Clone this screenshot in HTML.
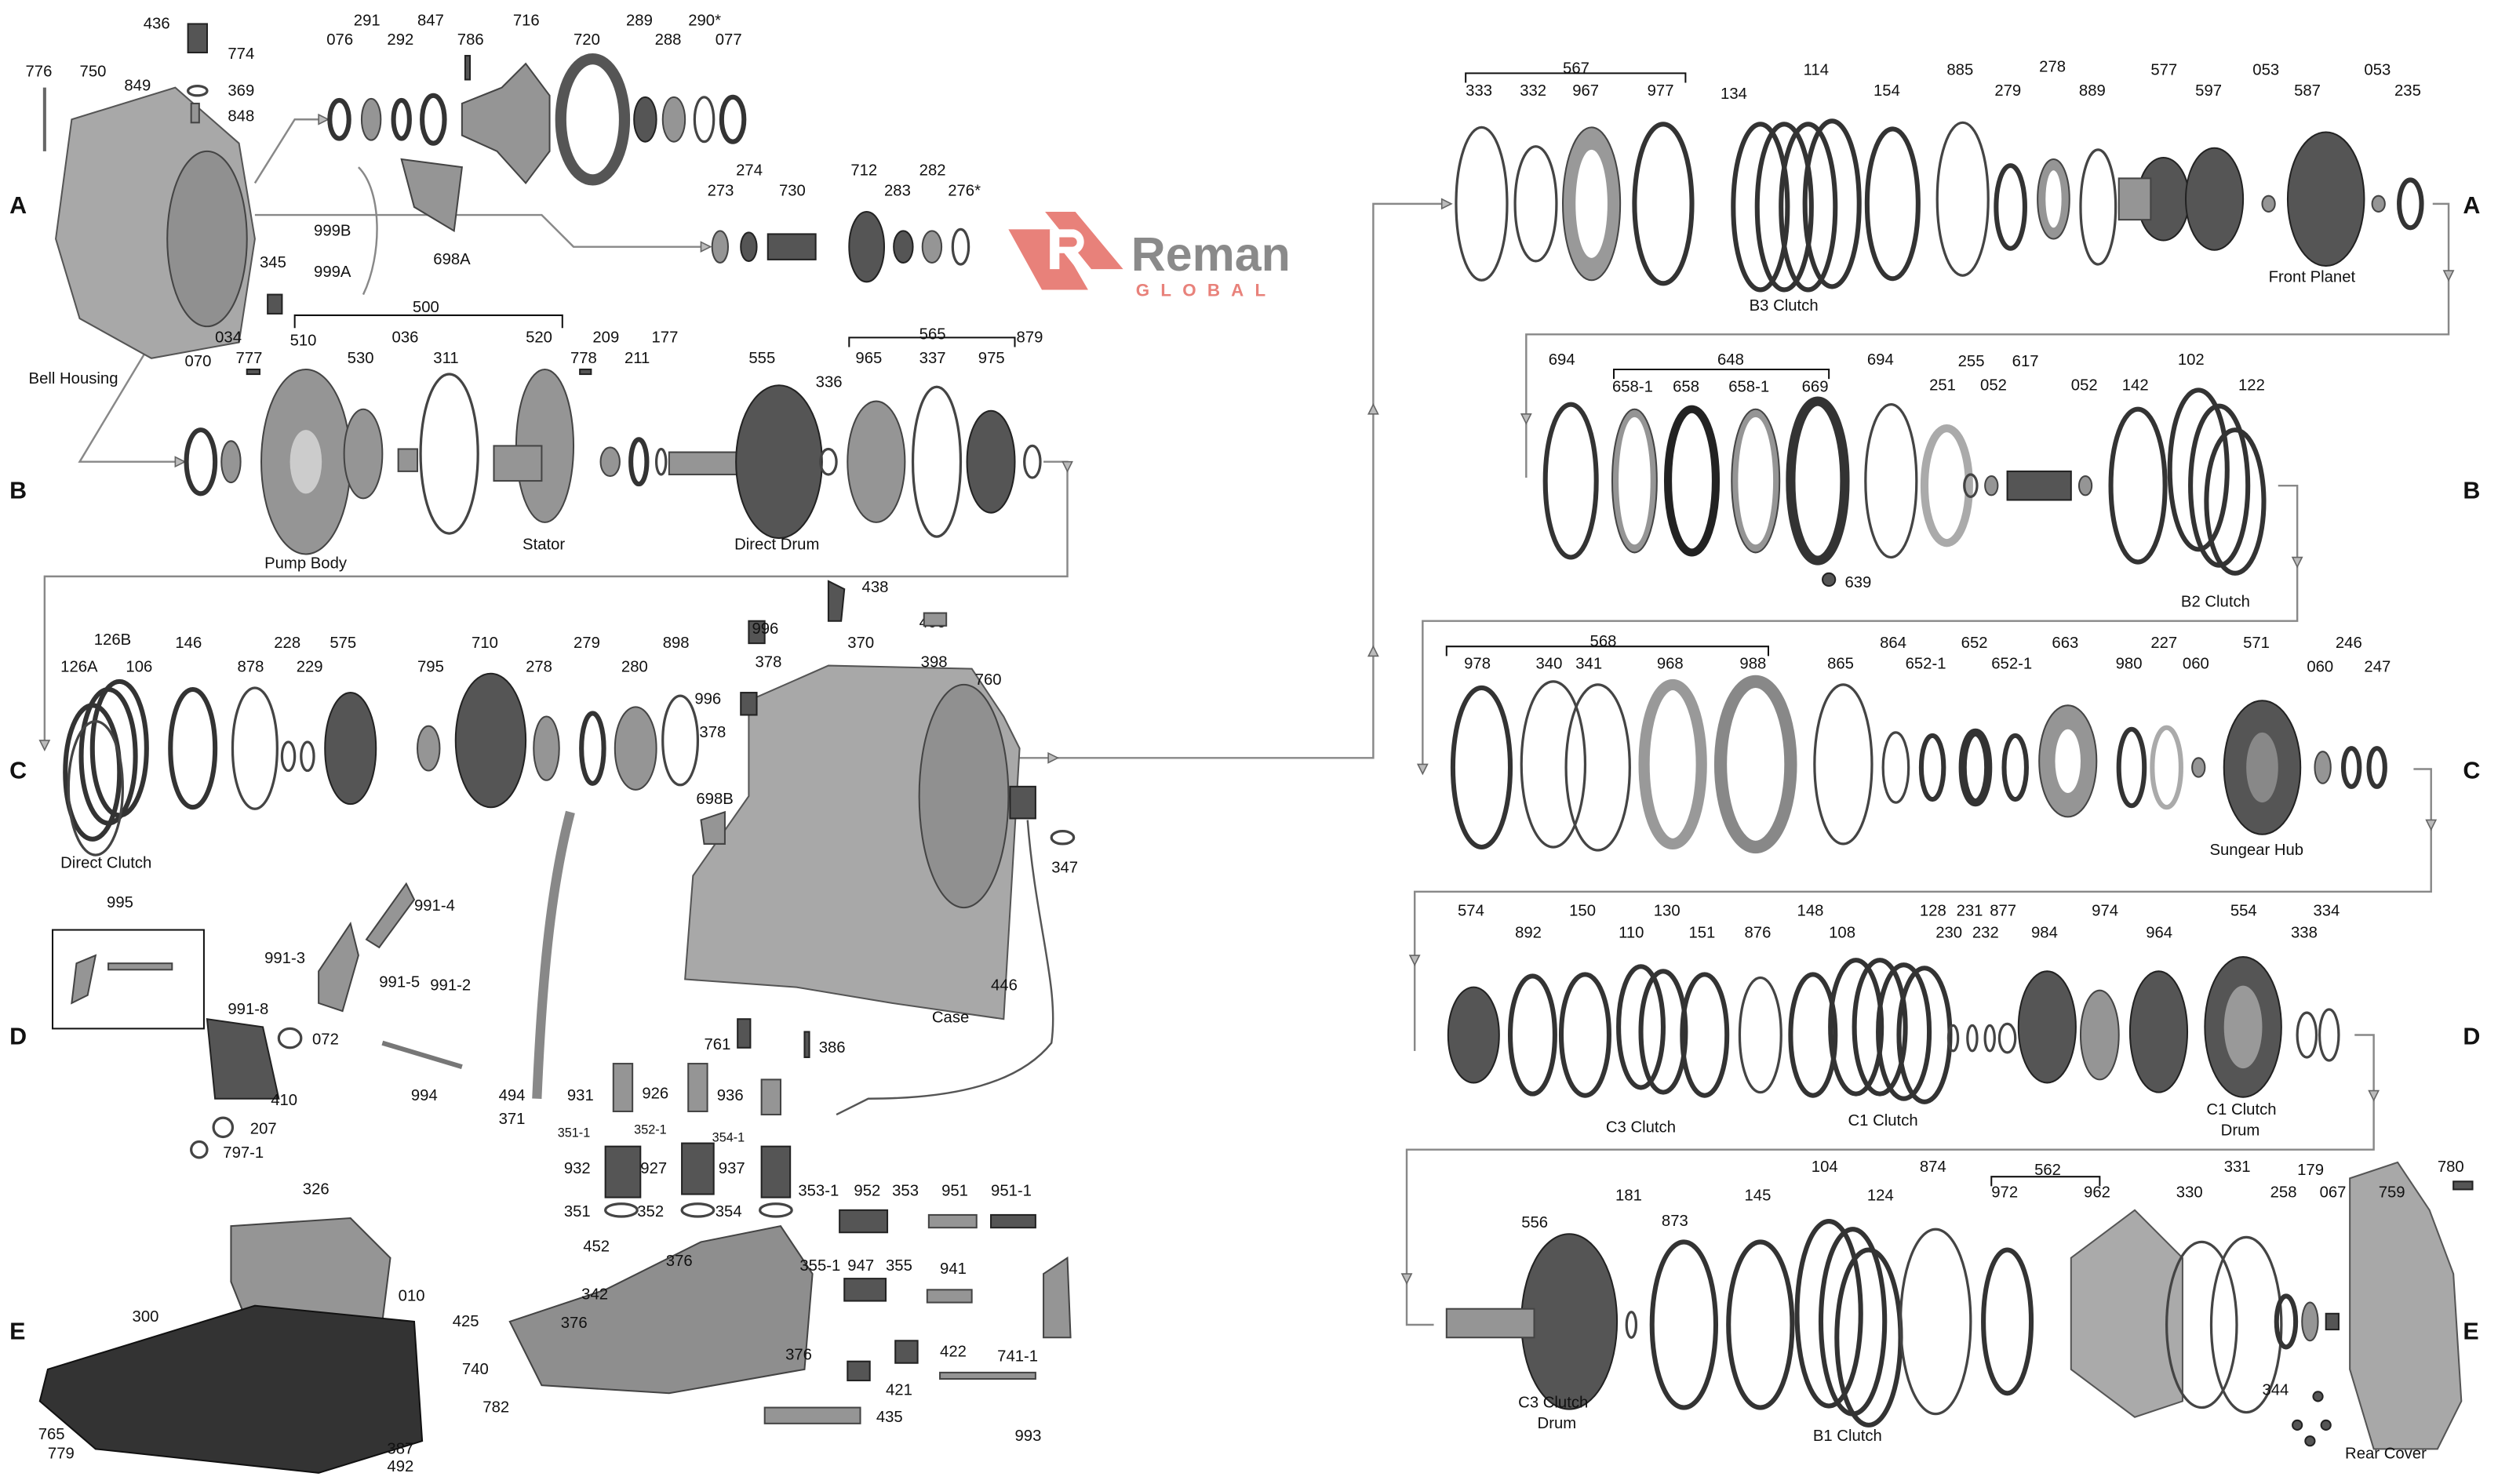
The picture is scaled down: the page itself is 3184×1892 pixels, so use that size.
<!DOCTYPE html>
<html><head><meta charset="utf-8"><style>
html,body{margin:0;padding:0;background:#fff}
svg{display:block}
text{font-family:"Liberation Sans",sans-serif;font-size:10px;fill:#111}
.L{font-size:15px;font-weight:bold}
.r{fill:none;stroke:#444;stroke-width:1.6}
.rt{fill:none;stroke:#333;stroke-width:3}
.g{fill:#959595;stroke:#444;stroke-width:1}
.d{fill:#555;stroke:#222;stroke-width:1}
.ln{fill:none;stroke:#888;stroke-width:1.2}
.ar{fill:#bbb;stroke:#666;stroke-width:0.8}
</style></head><body>
<svg width="3184" height="1892" viewBox="0 0 1568 932" preserveAspectRatio="none">
<rect width="1568" height="932" fill="#fff"/>
<text class="L" x="6" y="134">A</text><text class="L" x="6" y="313">B</text><text class="L" x="6" y="489">C</text><text class="L" x="6" y="656">D</text><text class="L" x="6" y="841">E</text>
<text class="L" x="1546" y="134">A</text><text class="L" x="1546" y="313">B</text><text class="L" x="1546" y="489">C</text><text class="L" x="1546" y="656">D</text><text class="L" x="1546" y="841">E</text>

<polyline class="ln" points="160,115 185,75 200,75"/>
<polyline class="ln" points="160,135 340,135 360,155 440,155"/>
<polyline class="ln" points="95,215 50,290 110,290"/>
<polyline class="ln" points="655,290 670,290 670,362 28,362 28,470"/>
<polyline class="ln" points="640,476 862,476 862,128 905,128"/>
<polyline class="ln" points="1527,128 1537,128 1537,210 958,210 958,300"/>
<polyline class="ln" points="1430,305 1442,305 1442,390 893,390 893,485"/>
<polyline class="ln" points="1515,483 1526,483 1526,560 888,560 888,660"/>
<polyline class="ln" points="1478,650 1490,650 1490,722 883,722 883,832 900,832"/>
<polygon class="ar" points="200,72 206,75 200,78"/><polygon class="ar" points="440,152 446,155 440,158"/>
<polygon class="ar" points="110,287 116,290 110,293"/><polygon class="ar" points="25,465 31,465 28,471"/>
<polygon class="ar" points="667,290 673,290 670,296"/><polygon class="ar" points="859,412 865,412 862,406"/>
<polygon class="ar" points="859,260 865,260 862,254"/><polygon class="ar" points="905,125 911,128 905,131"/>
<polygon class="ar" points="1534,170 1540,170 1537,176"/><polygon class="ar" points="955,260 961,260 958,266"/>
<polygon class="ar" points="1439,350 1445,350 1442,356"/><polygon class="ar" points="890,480 896,480 893,486"/>
<polygon class="ar" points="1523,515 1529,515 1526,521"/><polygon class="ar" points="885,600 891,600 888,606"/>
<polygon class="ar" points="1487,685 1493,685 1490,691"/><polygon class="ar" points="880,800 886,800 883,806"/>
<polygon class="ar" points="658,473 664,476 658,479"/>

<!-- logo -->
<polygon points="633,144 661,144 683,182 654,182" fill="#e8817a"/>
<polygon points="656,133 675,133 705,169 685,169" fill="#e8817a"/>
<path d="M659,144 h15 a8,8 0 0 1 2,15 l8,10 h-8 l-8,-10 h-3 v10 h-6 z" fill="#fff"/>
<path d="M665,149 h8 a3,3 0 0 1 0,6 h-8 z" fill="#e8817a"/>
<text x="710" y="170" style="font-size:30px;fill:#8a8a8a;font-weight:bold">Reman</text>
<text x="713" y="186" style="font-size:11px;fill:#e8817a;font-weight:bold;letter-spacing:7px">GLOBAL</text>

<path d="M45,75 L110,55 L150,90 L160,150 L150,215 L95,225 L50,200 L35,150 Z" fill="#a8a8a8" stroke="#555"/>
<ellipse cx="130" cy="150" rx="25" ry="55" fill="#909090" stroke="#444"/>
<line x1="28" y1="55" x2="28" y2="95" stroke="#666" stroke-width="2"/>
<text x="16" y="48">776</text><text x="50" y="48">750</text><text x="18" y="241">Bell Housing</text>
<rect x="118" y="15" width="12" height="18" class="d"/><text x="90" y="18">436</text><text x="143" y="37">774</text>
<text x="78" y="57">849</text><ellipse cx="124" cy="57" rx="6" ry="3" class="r"/><text x="143" y="60">369</text>
<rect x="120" y="65" width="5" height="12" class="g"/><text x="143" y="76">848</text>
<rect x="168" y="185" width="9" height="12" class="d"/><text x="163" y="168">345</text>
<ellipse cx="213" cy="75" rx="6" ry="12" class="rt"/><text x="205" y="28">076</text>
<ellipse cx="233" cy="75" rx="6" ry="13" class="g"/><text x="222" y="16">291</text>
<ellipse cx="252" cy="75" rx="5" ry="12" class="rt"/><text x="243" y="28">292</text>
<ellipse cx="272" cy="75" rx="7" ry="15" class="rt"/><text x="262" y="16">847</text>
<rect x="292" y="35" width="3" height="15" class="d"/><text x="287" y="28">786</text>
<path d="M290,65 L315,55 L330,40 L345,60 L345,95 L330,115 L312,95 L290,85 Z" class="g"/><text x="322" y="16">716</text>
<ellipse cx="372" cy="75" rx="20" ry="38" fill="none" stroke="#555" stroke-width="7"/><text x="360" y="28">720</text>
<ellipse cx="405" cy="75" rx="7" ry="14" class="d"/><text x="393" y="16">289</text>
<ellipse cx="423" cy="75" rx="7" ry="14" class="g"/><text x="411" y="28">288</text>
<ellipse cx="442" cy="75" rx="6" ry="14" class="r"/><text x="432" y="16">290*</text>
<ellipse cx="460" cy="75" rx="7" ry="14" class="rt"/><text x="449" y="28">077</text>
<path d="M252,100 L290,105 L285,145 L260,130 Z" class="g"/><text x="272" y="166">698A</text>
<text x="197" y="148">999B</text><text x="197" y="174">999A</text>
<path d="M225,105 C240,120 240,160 228,185" class="ln"/>
<ellipse cx="452" cy="155" rx="5" ry="10" class="g"/><text x="444" y="123">273</text>
<ellipse cx="470" cy="155" rx="5" ry="9" class="d"/><text x="462" y="110">274</text>
<rect x="482" y="147" width="30" height="16" class="d"/><text x="489" y="123">730</text>
<ellipse cx="544" cy="155" rx="11" ry="22" class="d"/><text x="534" y="110">712</text>
<ellipse cx="567" cy="155" rx="6" ry="10" class="d"/><text x="555" y="123">283</text>
<ellipse cx="585" cy="155" rx="6" ry="10" class="g"/><text x="577" y="110">282</text>
<ellipse cx="603" cy="155" rx="5" ry="11" class="r"/><text x="595" y="123">276*</text>

<ellipse cx="126" cy="290" rx="9" ry="20" class="rt"/><text x="116" y="230">070</text>
<ellipse cx="145" cy="290" rx="6" ry="13" class="g"/><text x="135" y="215">034</text>
<text x="148" y="228">777</text><rect x="155" y="232" width="8" height="3" class="d"/>
<ellipse cx="192" cy="290" rx="28" ry="58" class="g"/><ellipse cx="192" cy="290" rx="10" ry="20" fill="#ccc"/>
<text x="182" y="217">510</text><text x="166" y="357">Pump Body</text>
<path d="M185,206 V198 H353 V206" fill="none" stroke="#111"/>
<text x="259" y="196">500</text>
<ellipse cx="228" cy="285" rx="12" ry="28" class="g"/><text x="218" y="228">530</text>
<rect x="250" y="282" width="12" height="14" class="g"/><text x="246" y="215">036</text>
<ellipse cx="282" cy="285" rx="18" ry="50" class="r"/><text x="272" y="228">311</text>
<ellipse cx="342" cy="280" rx="18" ry="48" class="g"/><rect x="310" y="280" width="30" height="22" class="g"/>
<text x="330" y="215">520</text><text x="328" y="345">Stator</text>
<text x="358" y="228">778</text><rect x="364" y="232" width="7" height="3" class="d"/>
<text x="372" y="215">209</text><text x="392" y="228">211</text><text x="409" y="215">177</text>
<ellipse cx="383" cy="290" rx="6" ry="9" class="g"/>
<ellipse cx="401" cy="290" rx="5" ry="14" class="rt"/>
<ellipse cx="415" cy="290" rx="3" ry="8" class="r"/>
<rect x="420" y="284" width="45" height="14" class="g"/>
<ellipse cx="489" cy="290" rx="27" ry="48" class="d"/>
<text x="470" y="228">555</text><text x="461" y="345">Direct Drum</text>
<ellipse cx="520" cy="290" rx="5" ry="8" class="r"/><text x="512" y="243">336</text>
<path d="M533,218 V212 H637 V218" fill="none" stroke="#111"/><text x="577" y="213">565</text>
<ellipse cx="550" cy="290" rx="18" ry="38" class="g"/><text x="537" y="228">965</text>
<ellipse cx="588" cy="290" rx="15" ry="47" class="r"/><text x="577" y="228">337</text>
<ellipse cx="622" cy="290" rx="15" ry="32" class="d"/><text x="614" y="228">975</text>
<ellipse cx="648" cy="290" rx="5" ry="10" class="r"/><text x="638" y="215">879</text>

<ellipse cx="58" cy="485" rx="17" ry="42" class="rt"/><ellipse cx="68" cy="475" rx="17" ry="42" class="rt"/><ellipse cx="75" cy="470" rx="17" ry="42" class="rt"/>
<ellipse cx="60" cy="495" rx="17" ry="42" class="r"/>
<text x="38" y="422">126A</text><text x="59" y="405">126B</text><text x="79" y="422">106</text><text x="38" y="545">Direct Clutch</text>
<ellipse cx="121" cy="470" rx="14" ry="37" class="rt"/><text x="110" y="407">146</text>
<ellipse cx="160" cy="470" rx="14" ry="38" class="r"/><text x="149" y="422">878</text>
<ellipse cx="181" cy="475" rx="4" ry="9" class="r"/><text x="172" y="407">228</text>
<ellipse cx="193" cy="475" rx="4" ry="9" class="r"/><text x="186" y="422">229</text>
<ellipse cx="220" cy="470" rx="16" ry="35" class="d"/><text x="207" y="407">575</text>
<ellipse cx="269" cy="470" rx="7" ry="14" class="g"/><text x="262" y="422">795</text>
<ellipse cx="308" cy="465" rx="22" ry="42" class="d"/><text x="296" y="407">710</text>
<ellipse cx="343" cy="470" rx="8" ry="20" class="g"/><text x="330" y="422">278</text>
<ellipse cx="372" cy="470" rx="7" ry="22" class="rt"/><text x="360" y="407">279</text>
<ellipse cx="399" cy="470" rx="13" ry="26" class="g"/><text x="390" y="422">280</text>
<ellipse cx="427" cy="465" rx="11" ry="28" class="r"/><text x="416" y="407">898</text>

<path d="M470,440 L520,418 L610,420 L630,450 L640,470 L630,640 L560,630 L500,620 L430,615 L435,550 L470,500 Z" fill="#a8a8a8" stroke="#555"/>
<ellipse cx="605" cy="500" rx="28" ry="70" fill="#909090" stroke="#444"/>
<text x="585" y="642">Case</text><text x="612" y="430">760</text>
<rect x="470" y="390" width="10" height="14" class="d"/><text x="472" y="398">996</text>
<text x="474" y="419">378</text><text x="532" y="407">370</text><text x="577" y="394">490</text><text x="578" y="419">398</text>
<path d="M520,365 L530,370 L528,390 L520,390 Z" class="d"/><text x="541" y="372">438</text>
<rect x="580" y="385" width="14" height="8" class="g"/>
<rect x="465" y="435" width="10" height="14" class="d"/><text x="436" y="442">996</text><text x="439" y="463">378</text>
<path d="M440,515 L455,510 L455,530 L442,530 Z" class="g"/><text x="437" y="505">698B</text>
<rect x="634" y="494" width="16" height="20" class="d"/><text x="660" y="548">347</text><ellipse cx="667" cy="526" rx="7" ry="4" class="r"/>
<path d="M645,515 C650,580 665,620 660,655 C640,680 600,690 545,690 L525,700" class="ln" style="stroke:#555"/>
<text x="622" y="622">446</text>
<path d="M358,510 C345,560 340,620 337,690" fill="none" stroke="#888" stroke-width="6"/>
<text x="313" y="691">494</text><text x="313" y="706">371</text>
<rect x="463" y="640" width="8" height="18" class="d"/><text x="442" y="659">761</text>
<rect x="505" y="648" width="3" height="16" class="d"/><text x="514" y="661">386</text>

<rect x="33" y="584" width="95" height="62" fill="none" stroke="#111"/><text x="67" y="570">995</text>
<path d="M48,605 L60,600 L55,625 L45,630 Z" class="g"/><rect x="68" y="605" width="40" height="4" class="g"/>
<path d="M200,610 L220,580 L225,600 L215,635 L200,630 Z" class="g"/>
<text x="166" y="605">991-3</text><text x="260" y="572">991-4</text><text x="238" y="620">991-5</text><text x="270" y="622">991-2</text><text x="143" y="637">991-8</text>
<path d="M230,590 L255,555 L260,565 L238,595 Z" class="g"/>
<ellipse cx="182" cy="652" rx="7" ry="6" class="r"/><text x="196" y="656">072</text>
<path d="M130,640 L165,645 L175,690 L135,690 Z" class="d"/><text x="170" y="694">410</text>
<text x="258" y="691">994</text><line x1="240" y1="655" x2="290" y2="670" stroke="#777" stroke-width="3"/>
<text x="157" y="712">207</text><text x="140" y="727">797-1</text>
<circle cx="140" cy="708" r="6" class="r"/><circle cx="125" cy="722" r="5" class="r"/>

<path d="M145,770 L220,765 L245,790 L240,830 L155,830 L145,805 Z" class="g"/>
<text x="190" y="750">326</text><text x="250" y="817">010</text>
<path d="M30,860 L160,820 L260,830 L265,905 L200,925 L60,910 L25,880 Z" fill="#333" stroke="#111"/>
<text x="83" y="830">300</text><text x="24" y="904">765</text><text x="30" y="916">779</text>
<text x="243" y="913">387</text><text x="243" y="924">492</text>

<path d="M320,830 L380,810 L440,780 L490,770 L510,800 L505,860 L420,875 L340,870 Z" fill="#8e8e8e" stroke="#444"/>
<text x="290" y="863">740</text><text x="303" y="887">782</text>
<text x="366" y="786">452</text><text x="418" y="795">376</text><text x="365" y="816">342</text>
<text x="284" y="833">425</text><text x="352" y="834">376</text>
<text x="356" y="691">931</text><text x="403" y="690">926</text><text x="450" y="691">936</text>
<rect x="385" y="668" width="12" height="30" class="g"/><rect x="432" y="668" width="12" height="30" class="g"/><rect x="478" y="678" width="12" height="22" class="g"/>
<text x="350" y="714" style="font-size:8px">351-1</text><text x="398" y="712" style="font-size:8px">352-1</text><text x="447" y="717" style="font-size:8px">354-1</text>
<rect x="380" y="720" width="22" height="32" class="d"/><rect x="428" y="718" width="20" height="32" class="d"/><rect x="478" y="720" width="18" height="32" class="d"/>
<text x="354" y="737">932</text><text x="402" y="737">927</text><text x="451" y="737">937</text>
<text x="354" y="764">351</text><text x="400" y="764">352</text><text x="449" y="764">354</text>
<ellipse cx="390" cy="760" rx="10" ry="4" class="r"/><ellipse cx="438" cy="760" rx="10" ry="4" class="r"/><ellipse cx="487" cy="760" rx="10" ry="4" class="r"/>
<text x="501" y="751">353-1</text><text x="536" y="751">952</text><text x="560" y="751">353</text><text x="591" y="751">951</text><text x="622" y="751">951-1</text>
<rect x="527" y="760" width="30" height="14" class="d"/><rect x="583" y="763" width="30" height="8" class="g"/><rect x="622" y="763" width="28" height="8" class="d"/>
<text x="502" y="798">355-1</text><text x="532" y="798">947</text><text x="556" y="798">355</text><text x="590" y="800">941</text>
<rect x="530" y="803" width="26" height="14" class="d"/><rect x="582" y="810" width="28" height="8" class="g"/>
<path d="M655,800 L670,790 L672,840 L655,840 Z" class="g"/>
<text x="493" y="854">376</text><text x="590" y="852">422</text><text x="556" y="876">421</text>
<rect x="562" y="842" width="14" height="14" class="d"/><rect x="532" y="855" width="14" height="12" class="d"/>
<text x="626" y="855">741-1</text><rect x="590" y="862" width="60" height="4" class="g"/>
<text x="637" y="905">993</text><text x="550" y="893">435</text><rect x="480" y="884" width="60" height="10" class="g"/>

<path d="M920,52 V46 H1058 V52" fill="none" stroke="#111"/><text x="981" y="46">567</text>
<ellipse cx="930" cy="128" rx="16" ry="48" class="r"/><text x="920" y="60">333</text>
<ellipse cx="964" cy="128" rx="13" ry="36" class="r"/><text x="954" y="60">332</text>
<ellipse cx="999" cy="128" rx="18" ry="48" fill="#999" stroke="#444"/><ellipse cx="999" cy="128" rx="10" ry="34" fill="#fff"/><text x="987" y="60">967</text>
<ellipse cx="1044" cy="128" rx="18" ry="50" class="rt"/><text x="1034" y="60">977</text>
<text x="1080" y="62">134</text><text x="1132" y="47">114</text><text x="1098" y="195">B3 Clutch</text>
<ellipse cx="1105" cy="130" rx="17" ry="52" class="rt"/><ellipse cx="1120" cy="130" rx="17" ry="52" class="rt"/><ellipse cx="1135" cy="130" rx="17" ry="52" class="rt"/><ellipse cx="1150" cy="128" rx="17" ry="52" class="rt"/>
<ellipse cx="1188" cy="128" rx="16" ry="47" class="rt"/><text x="1176" y="60">154</text>
<ellipse cx="1232" cy="125" rx="16" ry="48" class="r"/><text x="1222" y="47">885</text>
<ellipse cx="1262" cy="130" rx="9" ry="26" class="rt"/><text x="1252" y="60">279</text>
<ellipse cx="1289" cy="125" rx="10" ry="25" class="g"/><ellipse cx="1289" cy="125" rx="5" ry="18" fill="#fff"/><text x="1280" y="45">278</text>
<ellipse cx="1317" cy="130" rx="11" ry="36" class="r"/><text x="1305" y="60">889</text>
<ellipse cx="1358" cy="125" rx="16" ry="26" class="d"/><rect x="1330" y="112" width="20" height="26" class="g"/><text x="1350" y="47">577</text>
<ellipse cx="1390" cy="125" rx="18" ry="32" class="d"/><text x="1378" y="60">597</text>
<ellipse cx="1424" cy="128" rx="4" ry="5" class="g"/><text x="1414" y="47">053</text>
<ellipse cx="1460" cy="125" rx="24" ry="42" class="d"/><text x="1440" y="60">587</text><text x="1424" y="177">Front Planet</text>
<ellipse cx="1493" cy="128" rx="4" ry="5" class="g"/><text x="1484" y="47">053</text>
<ellipse cx="1513" cy="128" rx="7" ry="15" class="rt"/><text x="1503" y="60">235</text>

<ellipse cx="986" cy="302" rx="16" ry="48" class="rt"/><text x="972" y="229">694</text>
<path d="M1013,238 V232 H1148 V238" fill="none" stroke="#111"/><text x="1078" y="229">648</text>
<ellipse cx="1026" cy="302" rx="14" ry="45" class="g"/><ellipse cx="1026" cy="302" rx="10" ry="40" fill="#fff"/><text x="1012" y="246">658-1</text>
<ellipse cx="1062" cy="302" rx="15" ry="45" fill="none" stroke="#222" stroke-width="5"/><text x="1050" y="246">658</text>
<ellipse cx="1102" cy="302" rx="15" ry="45" class="g"/><ellipse cx="1102" cy="302" rx="11" ry="40" fill="#fff"/><text x="1085" y="246">658-1</text>
<ellipse cx="1141" cy="302" rx="17" ry="50" fill="none" stroke="#333" stroke-width="6"/><text x="1131" y="246">669</text>
<text x="1158" y="369">639</text><circle cx="1148" cy="364" r="4" class="d"/>
<ellipse cx="1187" cy="302" rx="16" ry="48" class="r"/><text x="1172" y="229">694</text>
<ellipse cx="1222" cy="305" rx="14" ry="36" fill="none" stroke="#aaa" stroke-width="5"/><text x="1211" y="245">251</text>
<ellipse cx="1237" cy="305" rx="4" ry="7" class="r"/><text x="1229" y="230">255</text>
<ellipse cx="1250" cy="305" rx="4" ry="6" class="g"/><text x="1243" y="245">052</text>
<rect x="1260" y="296" width="40" height="18" class="d"/><text x="1263" y="230">617</text>
<ellipse cx="1309" cy="305" rx="4" ry="6" class="g"/><text x="1300" y="245">052</text>
<ellipse cx="1342" cy="305" rx="17" ry="48" class="rt"/><text x="1332" y="245">142</text>
<ellipse cx="1380" cy="295" rx="18" ry="50" class="rt"/><ellipse cx="1393" cy="305" rx="18" ry="50" class="rt"/><ellipse cx="1403" cy="315" rx="18" ry="45" class="rt"/>
<text x="1367" y="229">102</text><text x="1405" y="245">122</text><text x="1369" y="381">B2 Clutch</text>

<path d="M908,412 V406 H1110 V412" fill="none" stroke="#111"/><text x="998" y="406">568</text>
<ellipse cx="930" cy="482" rx="18" ry="50" class="rt"/><text x="919" y="420">978</text>
<ellipse cx="975" cy="480" rx="20" ry="52" class="r"/><text x="964" y="420">340</text>
<ellipse cx="1003" cy="482" rx="20" ry="52" class="r"/><text x="989" y="420">341</text>
<ellipse cx="1050" cy="480" rx="18" ry="50" fill="none" stroke="#999" stroke-width="7"/><text x="1040" y="420">968</text>
<ellipse cx="1102" cy="480" rx="22" ry="52" fill="none" stroke="#888" stroke-width="8"/><text x="1092" y="420">988</text>
<ellipse cx="1157" cy="480" rx="18" ry="50" class="r"/><text x="1147" y="420">865</text>
<ellipse cx="1190" cy="482" rx="8" ry="22" class="r"/><text x="1180" y="407">864</text>
<ellipse cx="1213" cy="482" rx="7" ry="20" class="rt"/><text x="1196" y="420">652-1</text>
<ellipse cx="1240" cy="482" rx="8" ry="22" fill="none" stroke="#333" stroke-width="5"/><text x="1231" y="407">652</text>
<ellipse cx="1265" cy="482" rx="7" ry="20" class="rt"/><text x="1250" y="420">652-1</text>
<ellipse cx="1298" cy="478" rx="18" ry="35" class="g"/><ellipse cx="1298" cy="478" rx="8" ry="20" fill="#fff"/><text x="1288" y="407">663</text>
<ellipse cx="1338" cy="482" rx="8" ry="24" class="rt"/><text x="1328" y="420">980</text>
<ellipse cx="1360" cy="482" rx="9" ry="25" fill="none" stroke="#aaa" stroke-width="3"/><text x="1350" y="407">227</text>
<ellipse cx="1380" cy="482" rx="4" ry="6" class="g"/><text x="1370" y="420">060</text>
<ellipse cx="1420" cy="482" rx="24" ry="42" class="d"/><ellipse cx="1420" cy="482" rx="10" ry="22" fill="#888"/><text x="1408" y="407">571</text><text x="1387" y="537">Sungear Hub</text>
<ellipse cx="1458" cy="482" rx="5" ry="10" class="g"/><text x="1448" y="422">060</text>
<ellipse cx="1476" cy="482" rx="5" ry="12" class="rt"/><text x="1466" y="407">246</text>
<ellipse cx="1492" cy="482" rx="5" ry="12" class="rt"/><text x="1484" y="422">247</text>

<ellipse cx="925" cy="650" rx="16" ry="30" class="d"/><text x="915" y="575">574</text>
<ellipse cx="962" cy="650" rx="14" ry="37" class="rt"/><text x="951" y="589">892</text>
<ellipse cx="995" cy="650" rx="15" ry="38" class="rt"/><text x="985" y="575">150</text>
<ellipse cx="1030" cy="645" rx="14" ry="38" class="rt"/><ellipse cx="1044" cy="648" rx="14" ry="38" class="rt"/>
<text x="1016" y="589">110</text><text x="1038" y="575">130</text><text x="1008" y="711">C3 Clutch</text>
<ellipse cx="1070" cy="650" rx="14" ry="38" class="rt"/><text x="1060" y="589">151</text>
<ellipse cx="1105" cy="650" rx="13" ry="36" class="r"/><text x="1095" y="589">876</text>
<ellipse cx="1138" cy="650" rx="14" ry="38" class="rt"/><text x="1128" y="575">148</text>
<ellipse cx="1165" cy="645" rx="16" ry="42" class="rt"/><ellipse cx="1180" cy="645" rx="16" ry="42" class="rt"/><ellipse cx="1195" cy="648" rx="16" ry="42" class="rt"/><ellipse cx="1208" cy="650" rx="16" ry="42" class="rt"/>
<text x="1148" y="589">108</text><text x="1160" y="707">C1 Clutch</text>
<text x="1205" y="575">128</text><text x="1215" y="589">230</text><text x="1228" y="575">231</text><text x="1238" y="589">232</text><text x="1249" y="575">877</text>
<ellipse cx="1226" cy="652" rx="3" ry="8" class="r"/><ellipse cx="1238" cy="652" rx="3" ry="8" class="r"/><ellipse cx="1249" cy="652" rx="3" ry="8" class="r"/><ellipse cx="1260" cy="652" rx="5" ry="9" class="r"/>
<ellipse cx="1285" cy="645" rx="18" ry="35" class="d"/><text x="1275" y="589">984</text>
<ellipse cx="1318" cy="650" rx="12" ry="28" class="g"/><text x="1313" y="575">974</text>
<ellipse cx="1355" cy="648" rx="18" ry="38" class="d"/><text x="1347" y="589">964</text>
<ellipse cx="1408" cy="645" rx="24" ry="44" class="d"/><ellipse cx="1408" cy="645" rx="12" ry="26" fill="#999"/><text x="1400" y="575">554</text><text x="1385" y="700">C1 Clutch</text><text x="1394" y="713">Drum</text>
<ellipse cx="1448" cy="650" rx="6" ry="14" class="r"/><text x="1438" y="589">338</text>
<ellipse cx="1462" cy="650" rx="6" ry="16" class="r"/><text x="1452" y="575">334</text>

<ellipse cx="985" cy="830" rx="30" ry="55" class="d"/><rect x="908" y="822" width="55" height="18" class="g"/><text x="955" y="771">556</text><text x="953" y="884">C3 Clutch</text><text x="965" y="897">Drum</text>
<ellipse cx="1024" cy="832" rx="3" ry="8" class="r"/><text x="1014" y="754">181</text>
<ellipse cx="1057" cy="832" rx="20" ry="52" class="rt"/><text x="1043" y="770">873</text>
<ellipse cx="1105" cy="832" rx="20" ry="52" class="rt"/><text x="1095" y="754">145</text>
<ellipse cx="1148" cy="825" rx="20" ry="58" class="rt"/><ellipse cx="1163" cy="830" rx="20" ry="58" class="rt"/><ellipse cx="1173" cy="840" rx="20" ry="55" class="rt"/>
<text x="1137" y="736">104</text><text x="1172" y="754">124</text><text x="1138" y="905">B1 Clutch</text>
<ellipse cx="1215" cy="830" rx="22" ry="58" class="r"/><text x="1205" y="736">874</text>
<path d="M1250,745 V739 H1318 V745" fill="none" stroke="#111"/><text x="1277" y="738">562</text>
<ellipse cx="1260" cy="830" rx="15" ry="45" class="rt"/><text x="1250" y="752">972</text>
<path d="M1300,790 L1340,760 L1370,790 L1370,880 L1340,890 L1300,860 Z" fill="#aaa" stroke="#555"/><text x="1308" y="752">962</text>
<ellipse cx="1382" cy="832" rx="22" ry="52" class="r"/><text x="1366" y="752">330</text>
<ellipse cx="1410" cy="832" rx="22" ry="55" class="r"/><text x="1396" y="736">331</text>
<ellipse cx="1435" cy="830" rx="6" ry="16" class="rt"/><text x="1425" y="752">258</text>
<ellipse cx="1450" cy="830" rx="5" ry="12" class="g"/><text x="1442" y="738">179</text>
<rect x="1460" y="825" width="8" height="10" class="d"/><text x="1456" y="752">067</text>
<path d="M1475,740 L1505,730 L1525,760 L1540,800 L1545,880 L1530,910 L1490,910 L1475,860 Z" fill="#a8a8a8" stroke="#555"/>
<text x="1493" y="752">759</text><text x="1530" y="736">780</text><rect x="1540" y="742" width="12" height="5" class="d"/>
<text x="1420" y="876">344</text><circle cx="1442" cy="895" r="3" class="d"/><circle cx="1450" cy="905" r="3" class="d"/><circle cx="1460" cy="895" r="3" class="d"/><circle cx="1455" cy="877" r="3" class="d"/>
<text x="1472" y="916">Rear Cover</text>
</svg>
</body></html>
